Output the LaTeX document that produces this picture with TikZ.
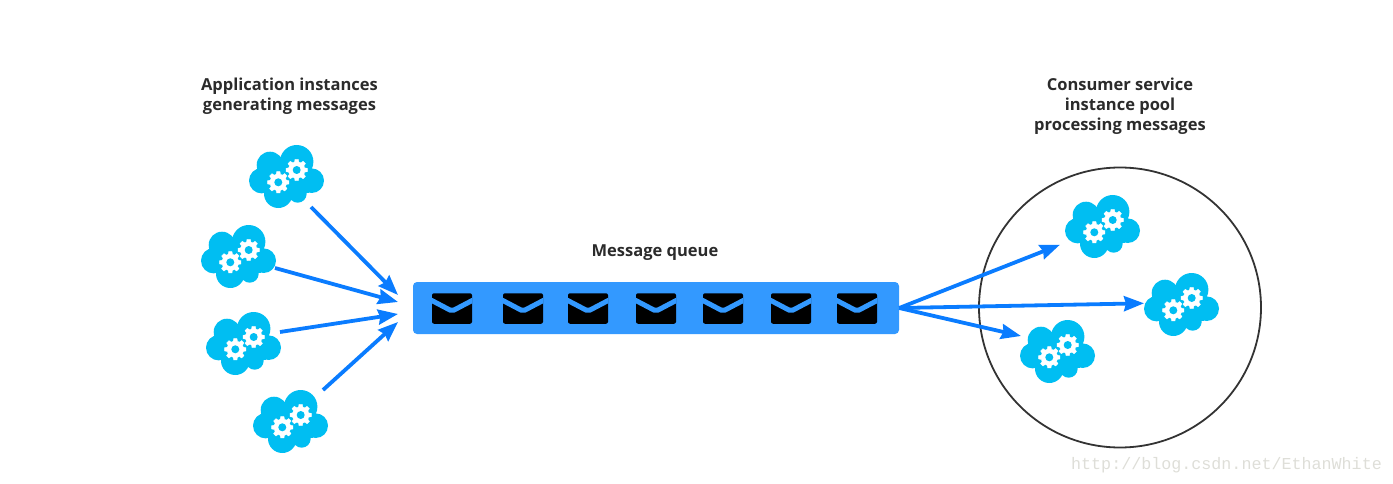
\documentclass[tikz,border=0pt]{standalone}
\usepackage{fontspec}
\setmainfont{Open Sans}
\newfontfamily\wmfont{Liberation Mono}
\usetikzlibrary{arrows.meta,shapes.geometric}
\definecolor{cloudblue}{HTML}{00BEF2}
\definecolor{arrowblue}{HTML}{0A7CFF}
\definecolor{queueblue}{HTML}{3399FF}
\definecolor{inktext}{HTML}{2B2B2B}
\definecolor{ringline}{HTML}{333333}
\definecolor{wmgrey}{HTML}{DEDED8}
\tikzset{
  title/.style={text=inktext,font=\fontsize{16.5}{20}\selectfont\bfseries,align=center,inner sep=0pt},
  flow/.style={draw=arrowblue,line width=3.8pt,-{Stealth[length=20pt,width=15pt,inset=2pt]}},
  queue/.style={fill=queueblue,rounded corners=4pt,minimum width=486pt,minimum height=52pt,inner sep=0pt},
  envelope/.style={fill=black,rounded corners=2pt,minimum width=40pt,minimum height=30.5pt,inner sep=0pt,
    path picture={\draw[queueblue,line width=5pt,line join=miter]
      ([shift={(-24,-10)}]path picture bounding box.center) -- ([shift={(0,2.6)}]path picture bounding box.center) -- ([shift={(24,-10)}]path picture bounding box.center);}},
  cloudbox/.style={minimum width=75pt,minimum height=63pt,inner sep=0pt},
  gearpic/.pic={
    \fill[white,line join=round,line width=.3pt,draw=white]
      (-15:8.3)
      \foreach \a in {0,45,...,315}{
        -- (\a-15:8.3) -- (\a-9:10.8) -- (\a+9:10.8) -- (\a+15:8.3)
      } -- cycle;
    \fill[cloudblue] (0,0) circle[radius=4];
  },
  cloudgear/.pic={
    \node[cloudbox] (-box) at (37.5,31.5) {};
    \fill[cloudblue]
      (47.7,16.7) circle[radius=16.7]
      (21,20) circle[radius=13.3]
      (12.7,35.7) circle[radius=12.7]
      (29.3,48.7) circle[radius=14.3]
      (48.7,48.7) circle[radius=9]
      (62.7,35.7) circle[radius=12.3]
      (37,33) circle[radius=18];
    \fill[cloudblue] (24,30) rectangle (60,48);
    \pic at (29.3,37.3) {gearpic};
    \pic at (47.7,25) {gearpic};
  }
}
\begin{document}
\begin{tikzpicture}[x=1pt,y=-1pt]
\useasboundingbox (0,0) rectangle (1393,484);

\node[title] (apptitle) at (289.5,96.5) {Application instances\\generating messages};
\node[title] (contitle) at (1120,106.5) {Consumer service\\instance pool\\processing messages};
\node[title] (qtitle) at (655,253) {Message queue};

\node[ellipse,draw=ringline,line width=1.8pt,minimum width=282pt,minimum height=280pt,inner sep=0pt] (pool) at (1120,307.5) {};

\pic (a1) at (249,145) {cloudgear};
\pic (a2) at (201,225) {cloudgear};
\pic (a3) at (206,312) {cloudgear};
\pic (a4) at (253,390) {cloudgear};
\pic (b1) at (1065,195) {cloudgear};
\pic (b2) at (1144,273) {cloudgear};
\pic (b3) at (1020,320) {cloudgear};

\node[queue] (q) at (656,308) {};
\foreach \n/\x in {1/452,2/523,3/588,4/656,5/723,6/791,7/857}
  \node[envelope] (e\n) at (\x,308.5) {};

\coordinate (a1out) at (311,207);
\coordinate (a2out) at (275,268);
\coordinate (a3out) at (280,332);
\coordinate (a4out) at (323,390);
\coordinate (in1) at (398,295);
\coordinate (in2) at (398,302);
\coordinate (in3) at (398,314);
\coordinate (in4) at (398,322);
\coordinate (qout) at (q.east);
\coordinate (b1in) at (1060,244.7);
\coordinate (b2in) at (1144,303.3);
\coordinate (b3in) at (1021,336);

\draw[flow] (a1out) -- (in1);
\draw[flow] (a2out) -- (in2);
\draw[flow] (a3out) -- (in3);
\draw[flow] (a4out) -- (in4);
\draw[flow] (qout) -- (b1in);
\draw[flow] (qout) -- (b2in);
\draw[flow] (qout) -- (b3in);

\node[text=wmgrey,font=\wmfont\fontsize{16.7}{18}\selectfont,inner sep=0pt] (mark) at (1226.5,465) {http://blog.csdn.net/EthanWhite};
\end{tikzpicture}
\end{document}
